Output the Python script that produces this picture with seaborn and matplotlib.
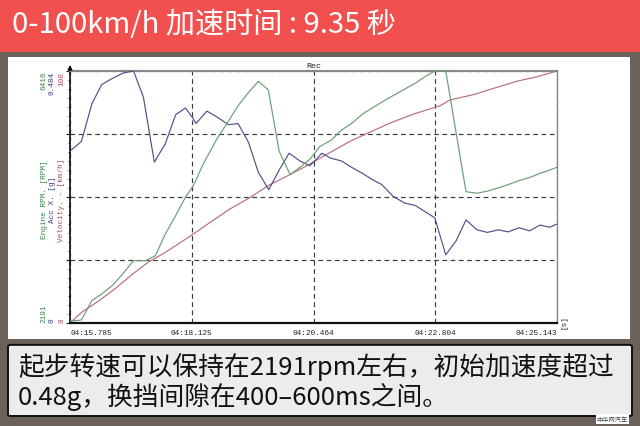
import matplotlib
matplotlib.use('Agg')
import matplotlib.pyplot as plt
import seaborn as sns
from matplotlib.patches import Rectangle, FancyBboxPatch
from matplotlib.ticker import AutoMinorLocator, FixedLocator

# time axis labels (absolute seconds after 04:00), data times are relative to the first one
tick_secs = [15.785, 18.125, 20.464, 22.804, 25.143]
tick_labels = ['04:15.785', '04:18.125', '04:20.464', '04:22.804', '04:25.143']

# Velocity [km/h]
vel_t = [0.0, 0.22, 0.54, 0.86, 1.19, 1.50, 1.83, 2.37, 2.69, 3.07, 3.46, 3.84, 4.23,
         4.61, 5.00, 5.38, 5.76, 6.18, 6.60, 7.11, 7.30, 7.75, 8.20, 8.58, 8.97, 9.358]
vel = [0, 4.2, 8.6, 13.5, 19.2, 24.1, 28.0, 35.3, 39.9, 45.2, 49.8, 54.9, 58.9,
       63.1, 67.7, 72.1, 75.7, 79.6, 82.9, 86.2, 88.5, 90.6, 93.5, 95.9, 97.7, 100]

# Acc X [g]
acc_t = [0.0, 0.22, 0.42, 0.61, 0.80, 1.02, 1.22, 1.41, 1.62, 1.83, 2.03, 2.22, 2.37,
         2.42, 2.63, 2.82, 3.04, 3.23, 3.43, 3.62, 3.82, 4.02, 4.21, 4.42, 4.61, 4.84,
         5.00, 5.22, 5.41, 5.61, 5.80, 5.99, 6.21, 6.44, 6.63, 6.82, 7.01, 7.22, 7.42,
         7.61, 7.82, 8.02, 8.23, 8.42, 8.63, 8.83, 9.03, 9.22, 9.358]
acc = [0.330, 0.349, 0.421, 0.458, 0.469, 0.480, 0.484, 0.434, 0.309, 0.344, 0.400,
       0.413, 0.392, 0.383, 0.407, 0.396, 0.381, 0.383, 0.347, 0.289, 0.256, 0.294,
       0.326, 0.311, 0.302, 0.326, 0.317, 0.311, 0.299, 0.288, 0.276, 0.266, 0.243,
       0.230, 0.226, 0.214, 0.202, 0.131, 0.158, 0.198, 0.179, 0.174, 0.179, 0.175,
       0.183, 0.177, 0.188, 0.184, 0.190]

# Engine RPM
rpm_t = [0.0, 0.22, 0.42, 0.61, 0.83, 1.02, 1.22, 1.45, 1.64, 1.83, 2.03, 2.21, 2.37,
         2.56, 2.82, 3.01, 3.23, 3.43, 3.62, 3.81, 4.02, 4.23, 4.42, 4.61, 4.80, 5.02,
         5.22, 5.41, 5.62, 5.83, 6.02, 6.24, 6.44, 6.63, 6.82, 7.01, 7.22, 7.61, 7.82,
         8.02, 8.23, 8.42, 8.63, 8.84, 9.03, 9.22, 9.358]
rpm = [2221, 2242, 2567, 2677, 2833, 3023, 3235, 3235, 3319, 3682, 3991, 4287, 4494,
       4857, 5275, 5529, 5833, 6057, 6243, 6099, 5068, 4680, 4802, 4937, 5149, 5258,
       5427, 5537, 5694, 5808, 5909, 6019, 6116, 6209, 6319, 6416, 6416, 4392, 4367,
       4401, 4456, 4511, 4578, 4633, 4701, 4756, 4802]

rpm_range = (2191, 6416)
acc_range = (0, 0.484)
vel_range = (0, 100)

title = '0-100km/h 加速时间 : 9.35 秒'
caption1 = '起步转速可以保持在2191rpm左右，初始加速度超过'
caption2 = '0.48g，换挡间隙在400–600ms之间。'

sns.set_style('white')
cjk = ['Noto Sans CJK SC', 'DejaVu Sans']
mono = ['Liberation Mono', 'DejaVu Sans Mono']

c_green, c_blue, c_red = '#6a9e72', '#50508a', '#b56e80'
t_green, t_blue, t_red = '#3a8a48', '#3c3c88', '#b04a5c'

fig = plt.figure(figsize=(6.4, 4.27), dpi=100)
fig.patch.set_facecolor('#6b625c')

# header band, white panel and caption box
fig.add_artist(Rectangle((0, 0.876), 1, 0.124, transform=fig.transFigure,
                         facecolor='#f24f4f', edgecolor='none', zorder=-2))
fig.add_artist(Rectangle((0.0125, 0.204), 0.972, 0.66, transform=fig.transFigure,
                         facecolor='white', edgecolor='none', zorder=-2))
fig.add_artist(FancyBboxPatch((0.0125, 0.0234), 0.975, 0.1666, transform=fig.transFigure,
                              boxstyle='round,pad=0,rounding_size=0.004',
                              facecolor='#ececec', edgecolor='#111111', lw=1.4, zorder=1))

ax = fig.add_axes([0.1094, 0.2412, 0.7609, 0.5902])
ax_acc = ax.twinx()
ax_rpm = ax.twinx()

t0 = tick_secs[0]
xpos = [s - t0 for s in tick_secs]

sns.lineplot(x=vel_t, y=vel, ax=ax, color=c_red, lw=0.85)
sns.lineplot(x=acc_t, y=acc, ax=ax_acc, color=c_blue, lw=0.85)
sns.lineplot(x=rpm_t, y=rpm, ax=ax_rpm, color=c_green, lw=0.85)

ax.set_xlim(xpos[0], xpos[-1])
ax.set_ylim(*vel_range)
ax_acc.set_ylim(*acc_range)
ax_rpm.set_ylim(*rpm_range)

for a in (ax_acc, ax_rpm):
    a.yaxis.set_visible(False)
    for s in a.spines.values():
        s.set_visible(False)

ax.set_xticks(xpos)
ax.set_xticklabels(tick_labels, fontsize=5.6, family=mono, color='#222222')
lbls = ax.get_xticklabels()
lbls[0].set_ha('left')
lbls[-1].set_ha('right')
ax.xaxis.set_minor_locator(AutoMinorLocator(5))
ax.tick_params(axis='x', which='major', length=0, pad=4)
ax.tick_params(axis='x', which='minor', direction='in', length=3, width=0.8, color='#222222')

ax.yaxis.set_major_locator(FixedLocator([0, 25, 50, 75, 100]))
ax.yaxis.set_minor_locator(AutoMinorLocator(7))
ax.set_yticklabels([])
ax.tick_params(axis='y', which='major', direction='out', length=3, width=0.8, color='#222222')
ax.tick_params(axis='y', which='minor', direction='out', length=1.5, width=0.7, color='#444444')

ax.grid(True, which='major', color='#3a3a3a', linestyle=(0, (4, 3)), lw=0.85)
ax.set_xlabel('')
ax.set_ylabel('')

ax.spines['left'].set_color('#111111')
ax.spines['left'].set_linewidth(1.2)
ax.spines['bottom'].set_color('#111111')
ax.spines['bottom'].set_linewidth(1.6)
ax.spines['top'].set_color('#888888')
ax.spines['top'].set_linewidth(1.5)
ax.spines['right'].set_color('#888888')
ax.spines['right'].set_linewidth(1.0)

ax.annotate('', xy=(0, 1.035), xytext=(0, 0.99), xycoords='axes fraction',
            arrowprops=dict(arrowstyle='-|>', color='k', lw=0.8, mutation_scale=7))

# left scale labels
for xp, top, bot, name, col in [(44, '6416', '2191', 'Engine RPM. [RPM]', t_green),
                                (52.5, '0.484', '0', 'Acc X. [g]', t_blue),
                                (61.5, '100', '0', 'Velocity. - [km/h]', t_red)]:
    fx = xp / 640
    fig.text(fx, 0.8314, top, rotation=90, ha='center', va='top', color=col,
             fontsize=5.6, family=mono)
    fig.text(fx, 0.2435, bot, rotation=90, ha='center', va='bottom', color=col,
             fontsize=5.6, family=mono)
    fig.text(fx, 0.5316, name, rotation=90, ha='center', va='center', color=col,
             fontsize=5.6, family=mono)

fig.text(0.4906, 0.8454, 'Rec', ha='center', va='center', fontsize=6,
         family=mono, color='#222222')
fig.text(0.882, 0.246, '[s]', rotation=90, ha='center', va='center', fontsize=5.5,
         family=mono, color='#222222')

fig.text(0.019, 0.9415, title, color='white', fontsize=21, va='center', ha='left',
         family=cjk, weight='light')
fig.text(0.028, 0.1405, caption1, color='#111111', fontsize=18.5, va='center', ha='left',
         family=cjk, weight='light')
fig.text(0.028, 0.0703, caption2, color='#111111', fontsize=18.5, va='center', ha='left',
         family=cjk, weight='light')
fig.text(0.957, 0.017, '中华网汽车', color='#444444', fontsize=4.5, ha='center', va='center',
         family=cjk, bbox=dict(facecolor='white', edgecolor='none', pad=0.6))

fig.savefig('out.png', dpi=100, facecolor=fig.get_facecolor())
